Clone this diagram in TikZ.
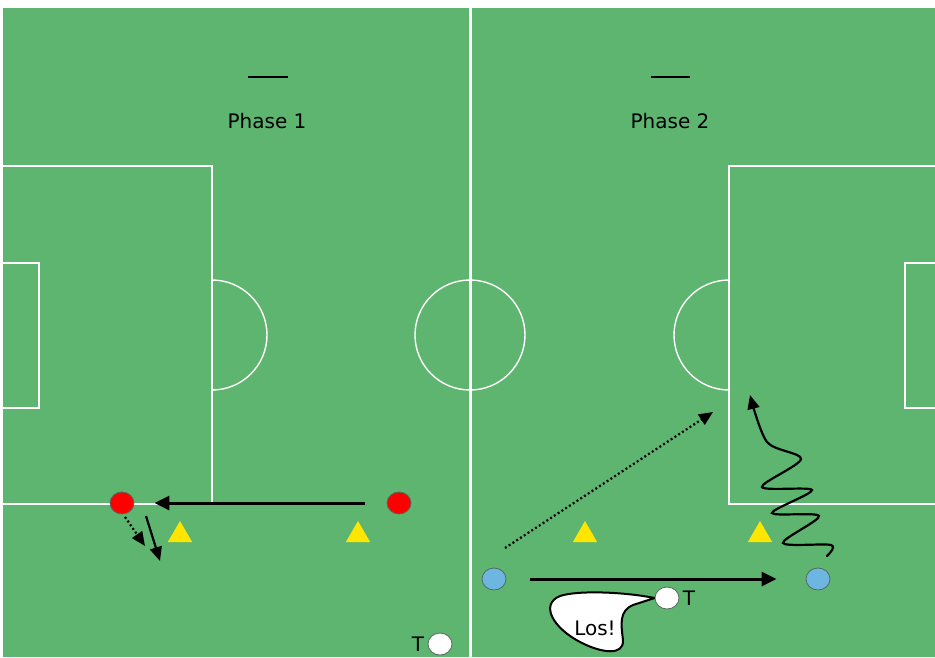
\documentclass[tikz,border=0pt]{standalone}
\usepackage{fontspec}
\setmainfont{DejaVu Sans}
\usetikzlibrary{arrows.meta,shapes.geometric,positioning}
\definecolor{pitch}{RGB}{94,181,112}
\definecolor{redpl}{RGB}{255,0,0}
\definecolor{bluepl}{RGB}{110,182,226}
\definecolor{cone}{RGB}{255,230,0}
\definecolor{rim}{RGB}{85,105,95}

\begin{document}
\begin{tikzpicture}[x=1pt,y=-1pt,
  font=\fontsize{20}{24}\selectfont,
  line/.style={white,line width=1.4pt},
  player/.style={ellipse,draw=rim,line width=0.8pt,minimum width=24pt,minimum height=22pt,inner sep=0pt},
  conemark/.style={regular polygon,regular polygon sides=3,fill=cone,minimum size=28pt,inner sep=0pt},
  pass/.style={black,line width=3pt,-{Triangle[length=15pt,width=14pt]}},
  run/.style={black,line width=2.2pt,-{Triangle[length=14pt,width=12pt]}},
  dots/.style={run,dash pattern=on 2pt off 2.5pt}]
 \useasboundingbox (0,0) rectangle (935,657);
 \fill[pitch] (3,8) rectangle (935,657);
 % pitch
 \draw[white,line width=3pt] (470,8) -- (470,657);
 \draw[line] (470,335) circle[radius=55];
 \draw[line] (3,166) -- (212,166) -- (212,504) -- (3,504);
 \draw[line] (3,263) -- (39,263) -- (39,408) -- (3,408);
 \draw[line] (212,280) arc[start angle=-90,end angle=90,radius=55];
 \draw[line] (935,166) -- (729,166) -- (729,504) -- (935,504);
 \draw[line] (935,263) -- (905,263) -- (905,408) -- (935,408);
 \draw[line] (729,280) arc[start angle=-90,end angle=-270,radius=55];
 % titles
 \draw[line width=2.5pt] (248,77) -- (288,77);
 \node (ph1) at (267,121) {Phase 1};
 \draw[line width=2.5pt] (651,77) -- (690,77);
 \node (ph2) at (670,121) {Phase 2};
 % phase 1
 \node[player,fill=redpl] (r1) at (122,503) {};
 \node[player,fill=redpl] (r2) at (399,503) {};
 \node[conemark] (c1) at (180,535) {};
 \node[conemark] (c2) at (358,535) {};
 \coordinate (d1) at (145,546);
 \coordinate (s1) at (146,516);
 \coordinate (s2) at (160,561);
 \draw[pass,shorten <=22pt,shorten >=20pt] (r2) -- (r1);
 \draw[dots] (r1) ++(3,14) -- (d1);
 \draw[run] (s1) -- (s2);
 \node[player,fill=white] (t1) at (440,644) {};
 \node[left=0pt of t1] {T};
 % phase 2
 \node[player,fill=bluepl] (b1) at (494,579) {};
 \node[player,fill=bluepl] (b2) at (818,579) {};
 \node[conemark] (c3) at (585,535) {};
 \node[conemark] (c4) at (760,535) {};
 \draw[pass,shorten <=24pt,shorten >=29pt] (b1) -- (b2);
 \coordinate (p1) at (505,548);
 \coordinate (p2) at (713,412);
 \draw[dots] (p1) -- (p2);
 \draw[run,line cap=round] plot[smooth,tension=0.5] coordinates {(827,556) (831,545) (783,543) (819,516) (772,513) (812,490) (762,487) (801,459) (767,442) (750,395)};
 \node[player,fill=white] (t2) at (667,598) {};
 \node[right=0pt of t2] {T};
 \draw[black,fill=white,line width=2pt] (t2.west) .. controls (625,592) and (578,590) .. (560,596)
   .. controls (540,604) and (552,628) .. (582,643)
   .. controls (602,653) and (624,656) .. (623,640)
   .. controls (621,624) and (619,611) .. (633,605) -- (t2.west);
 \node (los) at (595,628) {Los!};
\end{tikzpicture}
\end{document}
